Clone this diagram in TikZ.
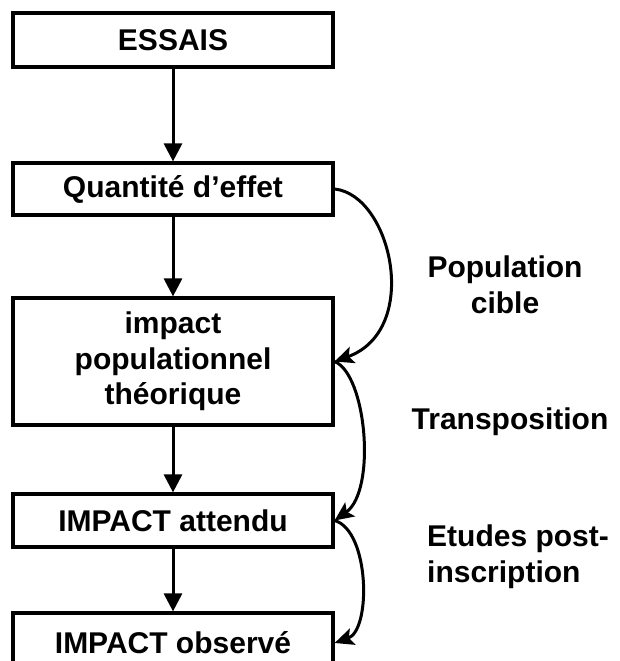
\documentclass[tikz,border=0pt]{standalone}
\usepackage{fontspec}
\setmainfont{Liberation Sans}
\usetikzlibrary{arrows.meta}
\begin{document}
\begin{tikzpicture}[x=1pt,y=-1pt,
  box/.style={draw=black,line width=3.2pt,fill=white,minimum width=320pt,inner sep=0pt,align=center,font=\fontsize{30}{35.5}\selectfont\bfseries},
  lbl/.style={inner sep=0pt,font=\fontsize{30}{36}\selectfont\bfseries},
  downarr/.style={line width=3pt,-{Triangle[length=18pt,width=18pt]}},
  curvearr/.style={line width=3pt,-{Stealth[length=19pt,width=17pt,inset=4pt]}}]
\useasboundingbox (0,0) rectangle (619,661);
\clip (0,0) rectangle (619,661);
\node[box,minimum height=54pt] (ess) at (173,40) {ESSAIS};
\node[box,minimum height=52pt] (q) at (173,189) {Quantité d’effet};
\node[box,minimum height=127pt] (imp) at (173,361.5) {impact\\populationnel\\théorique};
\node[box,minimum height=53pt] (att) at (173,520.5) {IMPACT attendu};
\node[box,minimum height=60pt] (obs) at (173,643) {IMPACT observé};
\draw[downarr] (ess) -- (q);
\draw[downarr] (q) -- (imp);
\draw[downarr] (imp) -- (att);
\draw[downarr] (att) -- (obs);
\draw[curvearr] (q.east) .. controls +(57,6) and +(87,-31.5) .. (imp.east);
\draw[curvearr] (imp.east) .. controls +(32,13) and +(42,-30) .. (att.east);
\draw[curvearr] (att.east) .. controls +(35,10) and +(37,-13) .. (obs.east);
\node[lbl,align=center] (pc) at (505,285) {Population\\cible};
\node[lbl] (tr) at (510,422) {Transposition};
\node[lbl,align=left,anchor=west] (ep) at (427,557) {Etudes post-\\inscription};
\end{tikzpicture}
\end{document}
